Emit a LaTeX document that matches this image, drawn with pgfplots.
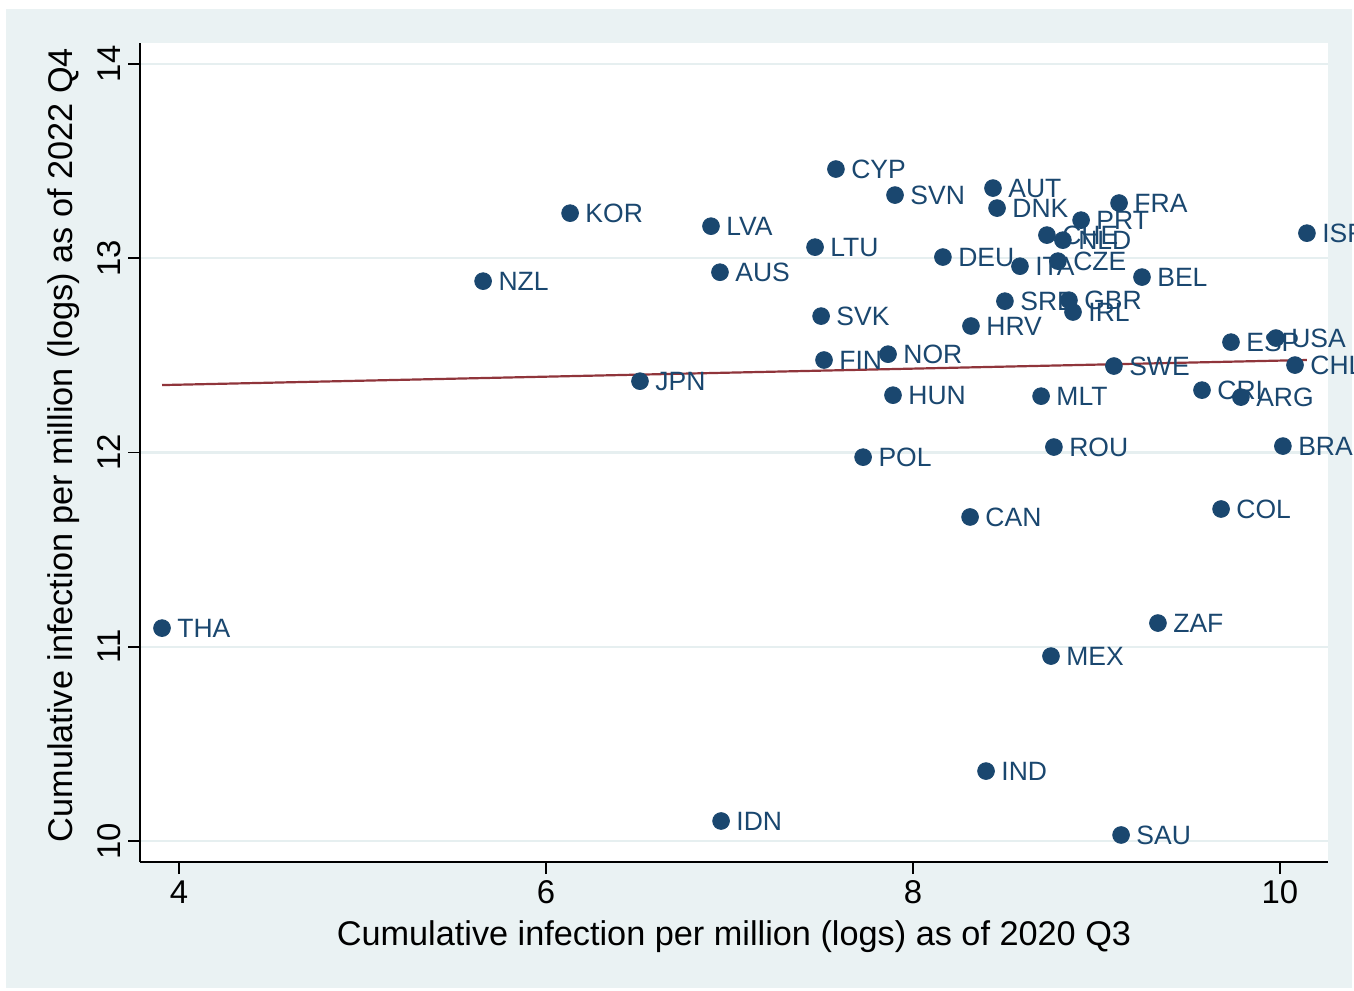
\documentclass[border=0pt]{standalone}
\usepackage{pgfplots}
\pgfplotsset{compat=1.18}
\usepackage{pgfplotstable}
\usepackage{fontspec}
\setmainfont{Liberation Sans}
\definecolor{stnavy}{HTML}{1A476F}
\definecolor{stmaroon}{HTML}{90353B}
\definecolor{stbg}{HTML}{EAF2F3}
\definecolor{stgrid}{HTML}{E6EFF0}

\pgfplotstableread{
x y label
3.907 11.096 THA
5.657 12.882 NZL
6.131 13.232 KOR
6.512 12.367 JPN
6.899 13.165 LVA
6.948 12.928 AUS
6.954 10.103 IDN
7.466 13.057 LTU
7.499 12.702 SVK
7.515 12.476 FIN
7.580 13.459 CYP
7.728 11.976 POL
7.864 12.506 NOR
7.902 13.325 SVN
7.891 12.295 HUN
8.163 13.006 DEU
8.316 12.651 HRV
8.311 11.668 CAN
8.398 10.360 IND
8.436 13.361 AUT
8.458 13.258 DNK
8.501 12.779 SRB
8.583 12.959 ITA
8.698 12.290 MLT
8.730 13.119 CHE
8.752 10.952 MEX
8.768 12.028 ROU
8.790 12.985 CZE
8.817 13.093 NLD
8.850 12.784 GBR
8.872 12.723 IRL
8.916 13.196 PRT
9.095 12.445 SWE
9.123 13.284 FRA
9.134 10.031 SAU
9.248 12.903 BEL
9.335 11.122 ZAF
9.575 12.321 CRI
9.733 12.568 ESP
9.679 11.709 COL
9.787 12.285 ARG
9.978 12.589 USA
10.016 12.033 BRA
10.082 12.450 CHL
10.147 13.129 ISR
}\datatable

\begin{document}
\begin{tikzpicture}[x=0.5bp,y=0.5bp]
\useasboundingbox (0,0) rectangle (1354,990);
\clip (0,0) rectangle (1354,990);
\fill[white] (0,0) rectangle (1354,990);
\fill[stbg] (6,2) rectangle (1352,981);
\begin{axis}[
  at={(70bp,64bp)}, anchor=south west,
  width=594bp, height=409.5bp, scale only axis,
  xmin=3.787, xmax=10.262, ymin=9.892, ymax=14.108,
  axis x line=bottom, axis y line=left,
  axis line style={-, black, line width=0.9bp},
  xtick={4,6,8,10}, ytick={10,11,12,13,14},
  tick align=outside, major tick length=6bp,
  tick style={black, line width=0.9bp},
  ymajorgrids, grid style={stgrid, line width=1.2bp},
  axis background/.style={fill=white},
  tick label style={font=\fontsize{16.5}{18}\selectfont},
  /pgf/number format/assume math mode=true,
  yticklabel style={rotate=90, anchor=south},
  xlabel={Cumulative infection per million (logs) as of 2020 Q3},
  ylabel={Cumulative infection per million (logs) as of 2022 Q4},
  label style={font=\fontsize{17.2}{19}\selectfont},
  xlabel style={at={(axis description cs:0.5,-0.0916)}, anchor=center},
  ylabel style={at={(axis description cs:-0.064,0.509)}, anchor=center, rotate=0},
  clip=false,
]
\addplot[only marks, mark=*, mark size=4.2bp, color=stnavy,
  nodes near coords, point meta=explicit symbolic,
  nodes near coords style={anchor=west, inner sep=0pt, xshift=7.5bp,
    text height=9.5bp, text depth=0pt, color=stnavy,
    font=\fontsize{13.3}{14}\selectfont}]
  table[x=x, y=y, meta=label] {\datatable};
\addplot[stmaroon, line width=1.1bp, no marks] coordinates {(3.907,12.347) (10.147,12.476)};
\end{axis}
\end{tikzpicture}
\end{document}
